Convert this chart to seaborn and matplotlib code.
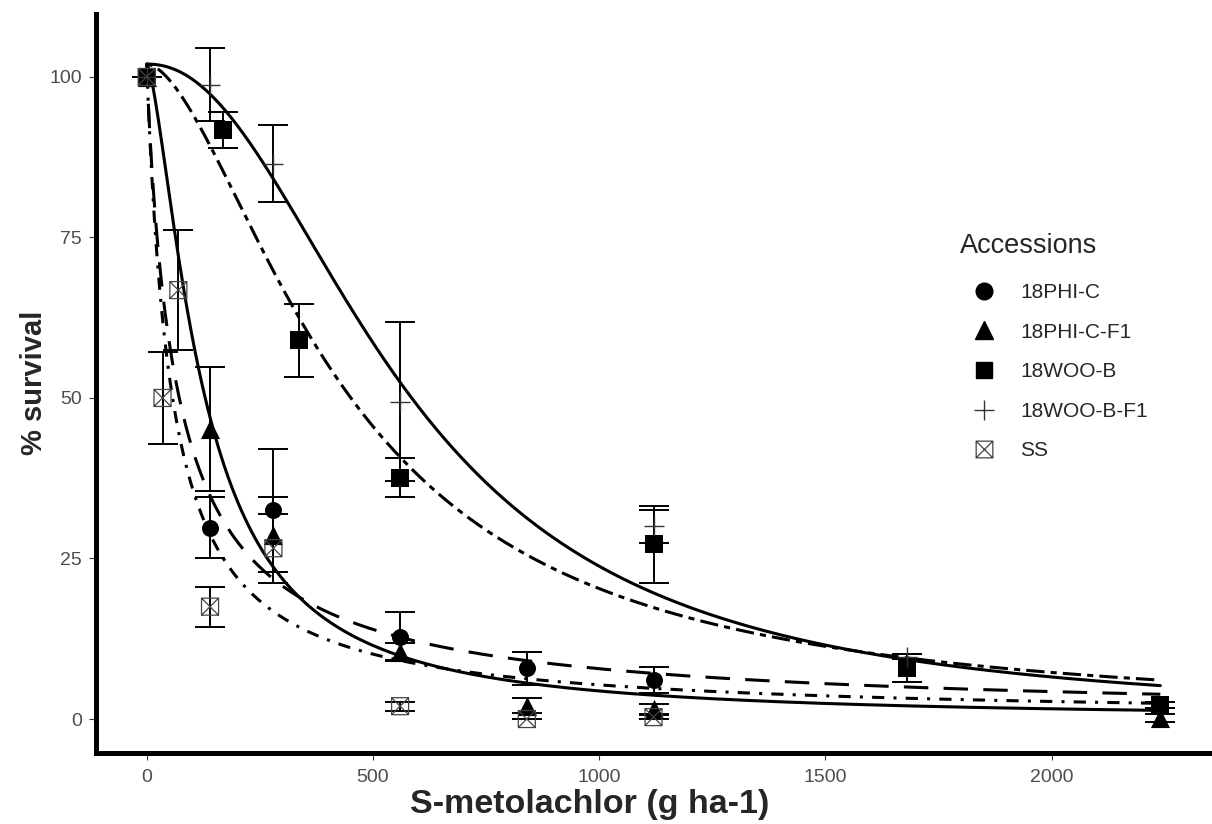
import numpy as np
import pandas as pd
import seaborn as sns
import matplotlib.pyplot as plt
from matplotlib.path import Path
from matplotlib.markers import MarkerStyle
from matplotlib.lines import Line2D

# ---- observed mean survival (%) and standard errors per accession ----
phi_c_dose = [0, 140, 280, 560, 840, 1120]
phi_c_surv = [100, 29.8, 32.5, 12.8, 7.9, 6.1]
phi_c_se = [0, 4.8, 9.6, 3.8, 2.6, 2.0]

phi_cf1_dose = [0, 140, 280, 560, 840, 1120, 2240]
phi_cf1_surv = [100, 45.2, 28.7, 10.5, 2.1, 1.6, 0.2]
phi_cf1_se = [0, 9.7, 5.8, 1.3, 1.2, 0.8, 0.6]

woo_b_dose = [0, 168, 336, 560, 1120, 1680, 2240]
woo_b_surv = [100, 91.7, 59.0, 37.6, 27.2, 7.9, 2.2]
woo_b_se = [0, 2.8, 5.7, 3.0, 6.0, 2.2, 0.5]

woo_bf1_dose = [0, 140, 280, 560, 1120, 1680]
woo_bf1_surv = [100, 98.8, 86.5, 49.4, 30.0, 9.7]
woo_bf1_se = [0, 5.7, 6.0, 12.4, 2.6, 0.4]

ss_dose = [0, 35, 70, 140, 280, 560, 840, 1120]
ss_surv = [100, 50.0, 66.8, 17.5, 26.6, 2.0, 0.0, 0.3]
ss_se = [0, 7.1, 9.3, 3.1, 5.4, 0.7, 0.0, 0.3]

accessions = ["18PHI-C", "18PHI-C-F1", "18WOO-B", "18WOO-B-F1", "SS"]

# ---- three-parameter log-logistic fits: d / (1 + (x/e)^b) ----
fit_b = [0.93, 1.5, 1.7, 2.15, 1.0]
fit_e = [69, 126, 441, 575, 55]
fit_d = [102, 102, 102, 102, 102]

x_ticks = [0, 500, 1000, 1500, 2000]
y_ticks = [0, 25, 50, 75, 100]

obs = {
    "18PHI-C": (phi_c_dose, phi_c_surv, phi_c_se),
    "18PHI-C-F1": (phi_cf1_dose, phi_cf1_surv, phi_cf1_se),
    "18WOO-B": (woo_b_dose, woo_b_surv, woo_b_se),
    "18WOO-B-F1": (woo_bf1_dose, woo_bf1_surv, woo_bf1_se),
    "SS": (ss_dose, ss_surv, ss_se),
}

sns.set_theme(style="white")
plt.rcParams["font.family"] = ["Liberation Sans", "DejaVu Sans"]

W, H = 1212, 824
fig = plt.figure(figsize=(W / 100, H / 100), dpi=100)
ax_left, ax_right, ax_bottom, ax_top = 96, 1211, 752.6, 14
ax = fig.add_axes([ax_left / W, (H - ax_bottom) / H,
                   (ax_right - ax_left) / W, (ax_bottom - ax_top) / H])

# fitted dose-response curves
grid = np.linspace(0, 2240, 600)
curve_frames = []
for name, b, e, d in zip(accessions, fit_b, fit_e, fit_d):
    curve_frames.append(pd.DataFrame({
        "Accession": name,
        "dose": grid,
        "pred": d / (1 + (grid / e) ** b),
    }))
curves = pd.concat(curve_frames, ignore_index=True)

dash_map = {
    "18PHI-C": (8, 5),
    "18PHI-C-F1": "",
    "18WOO-B": (2, 2, 6, 2),
    "18WOO-B-F1": "",
    "SS": (1, 3, 4, 3),
}
sns.lineplot(data=curves, x="dose", y="pred", style="Accession",
             dashes=dash_map, color="black", linewidth=2.2,
             estimator=None, sort=False, legend=False, ax=ax, zorder=2)

# error bars
for name in accessions:
    dose, surv, se = obs[name]
    ax.errorbar(dose, surv, yerr=se, fmt="none", ecolor="black",
                elinewidth=1.4, capsize=10.8, capthick=1.4, zorder=3)

# boxed-cross marker
box_x = Path(
    [(-1, -1), (1, -1), (1, 1), (-1, 1), (-1, -1),
     (-1, -1), (1, 1), (-1, 1), (1, -1)],
    [Path.MOVETO, Path.LINETO, Path.LINETO, Path.LINETO, Path.CLOSEPOLY,
     Path.MOVETO, Path.LINETO, Path.MOVETO, Path.LINETO],
)

filled_markers = {"18PHI-C": ("o", 150), "18PHI-C-F1": ("^", 190), "18WOO-B": ("s", 150)}
for name, (mk, size) in filled_markers.items():
    dose, surv, _ = obs[name]
    sns.scatterplot(x=dose, y=surv, marker=mk, s=size, color="black",
                    edgecolor="black", linewidth=0, ax=ax, zorder=4)

dose, surv, _ = obs["18WOO-B-F1"]
ax.scatter(dose, surv, marker="+", s=210, color="#333333", linewidths=1.0, zorder=4)
dose, surv, _ = obs["SS"]
ax.scatter(dose, surv, marker=MarkerStyle(box_x), s=150, facecolors="none",
           edgecolors="#444444", linewidths=0.9, zorder=4)

# axes styling
ax.set_xlim(-112, 2352)
ax.set_ylim(-5.23, 109.8)
ax.set_xticks(x_ticks)
ax.set_yticks(y_ticks)
ax.tick_params(axis="both", which="major", length=5, width=0.8, color="#333333",
               labelsize=14, labelcolor="#4D4D4D", direction="out",
               bottom=True, left=True)
ax.tick_params(axis="x", pad=7)
ax.tick_params(axis="y", pad=5)
for side in ["top", "right"]:
    ax.spines[side].set_visible(False)
for side in ["left", "bottom"]:
    ax.spines[side].set_linewidth(3.6)
    ax.spines[side].set_color("black")

ax.set_xlabel("S-metolachlor (g ha-1)", fontsize=24.5, fontweight="bold")
ax.set_ylabel("% survival", fontsize=21, fontweight="bold")
ax.xaxis.set_label_coords((590 - ax_left) / (ax_right - ax_left),
                          (ax_bottom - 804) / (ax_bottom - ax_top))
ax.xaxis.label.set_verticalalignment("center")
ax.yaxis.set_label_coords((34 - ax_left) / (ax_right - ax_left),
                          (ax_bottom - 383) / (ax_bottom - ax_top))
ax.yaxis.label.set_verticalalignment("center")

# legend
handles = [
    Line2D([], [], ls="none", marker="o", color="black", markersize=12),
    Line2D([], [], ls="none", marker="^", color="black", markersize=13.5),
    Line2D([], [], ls="none", marker="s", color="black", markersize=12),
    Line2D([], [], ls="none", marker="+", color="#333333", markersize=14.5, markeredgewidth=1.0),
    Line2D([], [], ls="none", marker=MarkerStyle(box_x), markerfacecolor="none",
           markeredgecolor="#444444", markersize=12, markeredgewidth=0.9),
]
fig.text(960 / W, 1 - 246 / H, "Accessions", fontsize=19.5, ha="left", va="center")
fig.legend(handles, accessions, loc="upper left",
           bbox_to_anchor=(960 / W, 1 - 283 / H), frameon=False,
           fontsize=15, handlelength=2.3, handletextpad=0.6,
           labelspacing=0.99, borderaxespad=0, borderpad=0)

fig.savefig("out.png", dpi=100)
